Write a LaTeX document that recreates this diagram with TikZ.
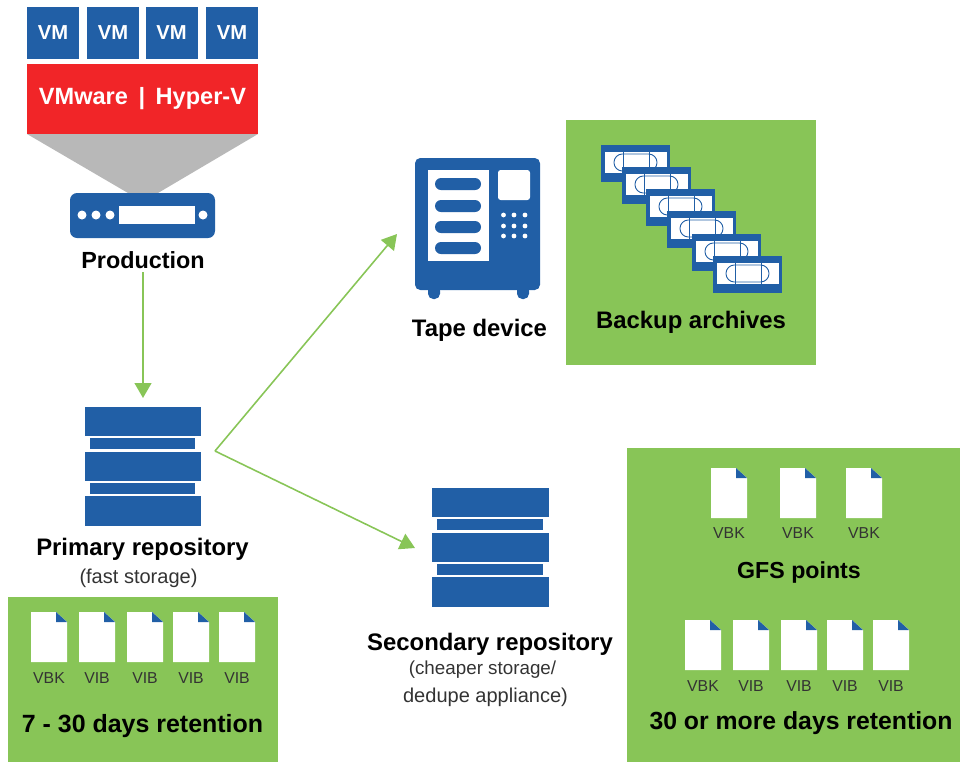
\documentclass[tikz,border=0pt]{standalone}
\usepackage{fontspec}
\setmainfont{Liberation Sans}
\usetikzlibrary{arrows.meta, positioning}
\definecolor{darkblue}{RGB}{33,95,166}
\definecolor{boxgreen}{RGB}{136,197,87}
\definecolor{brightred}{RGB}{241,37,40}
\definecolor{conegray}{RGB}{184,184,184}
\tikzset{
  bar/.style={fill=darkblue, draw=none, inner sep=0, outer sep=0},
  title/.style={font=\fontsize{13.6}{15}\selectfont\bfseries, text=black, inner sep=1pt},
  note/.style={font=\fontsize{11.4}{13}\selectfont, text=black!80, inner sep=1pt},
  filelabel/.style={font=\fontsize{9}{11}\selectfont, text=black!80, inner sep=0},
  vmbox/.style={bar, minimum width=52*0.02cm, minimum height=52*0.02cm, text=white, font=\fontsize{11.5}{13}\selectfont\bfseries},
  flow/.style={-{Triangle[length=8.5pt,width=9.6pt]}, draw=boxgreen, line width=0.9pt},
}
\begin{document}
\begin{tikzpicture}[x=0.02cm, y=-0.02cm]
\useasboundingbox (0,0) rectangle (960,762);

% Green panels
\fill[boxgreen] (8,597) rectangle (278,762);
\fill[boxgreen] (566,120) rectangle (816,365);
\fill[boxgreen] (627,448) rectangle (960,762);

% VMs
\foreach \x/\i in {53/1, 113/2, 171.5/3, 232/4}
  \node[vmbox] (vm\i) at (\x,33) {VM};

% Hypervisor
\fill[conegray] (27,134) -- (258,134) -- (158,193) -- (128,193) -- cycle;
\node[bar, fill=brightred, minimum width=231*0.02cm, minimum height=70*0.02cm, text=white, font=\fontsize{13.4}{15}\selectfont\bfseries] (hypervisor) at (142.5,99) {VMware\hspace{0.45em}|\hspace{0.45em}Hyper-V};

% Production server
\fill[darkblue, rounded corners=4pt] (70,193) rectangle (215,238);
\foreach \x in {82,96,110,203}
  \fill[white] (\x,215) circle (4.5);
\fill[white] (119,206) rectangle (195,224);
\node[title, font=\fontsize{13.3}{15}\selectfont\bfseries] (production) at (143,260) {Production};

% Primary repository
\foreach \y/\i in {421.5/top, 466.5/mid, 511/bottom}
  \node[bar, minimum width=116*0.02cm, minimum height=29.5*0.02cm] (primary\i) at (143,\y) {};
\foreach \y in {443.5,488.5}
  \fill[darkblue] (90,\y-5.5) rectangle (195,\y+5.5);
\node[title] (primarylabel) at (142.5,549.5) {Primary repository};
\node[note] (primarynote) at (138.5,578.5) {(fast storage)};

% Secondary repository
\foreach \y/\i in {502.5/top, 547.5/mid, 592/bottom}
  \node[bar, minimum width=117*0.02cm, minimum height=29.5*0.02cm] (secondary\i) at (490.5,\y) {};
\foreach \y in {524.5,569.5}
  \fill[darkblue] (437,\y-5.5) rectangle (543,\y+5.5);
\node[title] (secondarylabel) at (490,644.5) {Secondary repository};
\node[note, font=\fontsize{10.7}{13}\selectfont] (secondarynote1) at (482.5,669.5) {(cheaper storage/};
\node[note] (secondarynote2) at (485.5,697.5) {dedupe appliance)};

% Tape device
\fill[darkblue, rounded corners=3pt] (415,158) rectangle (540,290);
\fill[darkblue, rounded corners=3pt] (428,285) rectangle (440,299);
\fill[darkblue, rounded corners=3pt] (517,285) rectangle (529,299);
\fill[white] (428,170) rectangle (489,261);
\foreach \y in {184,206,227,248}
  \fill[darkblue, rounded corners=6*0.02cm] (435,\y-6) rectangle (481,\y+6);
\fill[white, rounded corners=1.5pt] (498,170) rectangle (530,200);
\foreach \x in {503.5,514,525}
  \foreach \y in {215,226,236}
    \fill[white] (\x,\y) circle (2.4);
\node[title] (tapelabel) at (479.5,330.5) {Tape device};

% Tapes
\foreach \x/\y in {601/145, 622/167, 646/189, 667/211, 692/234, 713/256} {
  \fill[darkblue] (\x,\y) rectangle (\x+69,\y+37);
  \fill[white] (\x+3.5,\y+7) rectangle (\x+66,\y+28);
  \draw[darkblue, line width=0.5pt, rounded corners=8.4*0.02cm] (\x+13,\y+9) rectangle (\x+56,\y+26);
  \draw[darkblue, line width=0.5pt] (\x+22,\y+7) -- (\x+22,\y+28) (\x+48,\y+7) -- (\x+48,\y+28);
}
\node[title] (archiveslabel) at (691,322.5) {Backup archives};

% Files, 7 - 30 days
\foreach \x/\t/\i in {31/VBK/1, 79/VIB/2, 127/VIB/3, 173/VIB/4, 219/VIB/5} {
  \fill[white] (\x,612) -- (\x+25,612) -- (\x+36,622) -- (\x+36,662) -- (\x,662) -- cycle;
  \fill[darkblue] (\x+25,612) -- (\x+36,622) -- (\x+25,622) -- cycle;
  \node[filelabel] (primaryfile\i) at (\x+18,678) {\t};
}
\node[title, font=\fontsize{14.2}{17}\selectfont\bfseries] (primaryretention) at (142.5,726.5) {7 - 30 days retention};

% Files, GFS
\foreach \x/\i in {711/1, 780/2, 846/3} {
  \fill[white] (\x,468) -- (\x+25,468) -- (\x+36,478) -- (\x+36,518) -- (\x,518) -- cycle;
  \fill[darkblue] (\x+25,468) -- (\x+36,478) -- (\x+25,478) -- cycle;
  \node[filelabel] (gfsfile\i) at (\x+18,533) {VBK};
}
\node[title, font=\fontsize{13.2}{15}\selectfont\bfseries] (gfslabel) at (799,572.5) {GFS points};

% Files, 30 or more days
\foreach \x/\t/\i in {685/VBK/1, 733/VIB/2, 781/VIB/3, 827/VIB/4, 873/VIB/5} {
  \fill[white] (\x,620) -- (\x+25,620) -- (\x+36,630) -- (\x+36,670) -- (\x,670) -- cycle;
  \fill[darkblue] (\x+25,620) -- (\x+36,630) -- (\x+25,630) -- cycle;
  \node[filelabel] (secondaryfile\i) at (\x+18,686) {\t};
}
\node[title, font=\fontsize{14.1}{17}\selectfont\bfseries] (secondaryretention) at (801,723.5) {30 or more days retention};

% Connectors
\coordinate (branch) at (215,451);
\coordinate (tapein) at (397,234);
\coordinate (secondaryin) at (415,548);
\draw[flow, shorten >=5pt, shorten <=1pt] (production) -- (primarytop);
\draw[flow] (branch) -- (tapein);
\draw[flow] (branch) -- (secondaryin);
\end{tikzpicture}
\end{document}
